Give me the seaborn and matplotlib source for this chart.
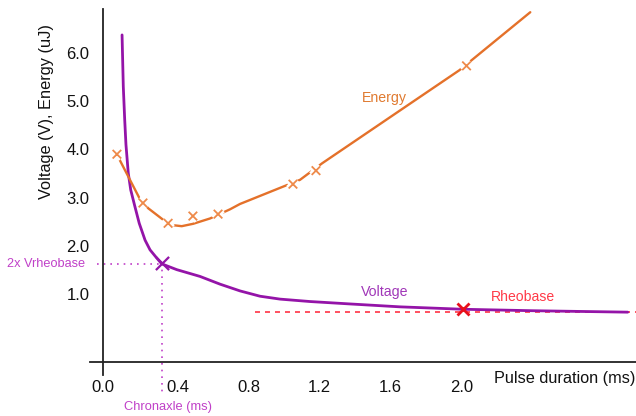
import numpy as np
import pandas as pd
import matplotlib
matplotlib.use("Agg")
import matplotlib.pyplot as plt
import matplotlib.patheffects as pe
import seaborn as sns

# ---- data ----
voltage_x = [0.085, 0.092, 0.100, 0.107, 0.120, 0.134, 0.158, 0.182, 0.215, 0.243, 0.281, 0.309,
             0.394, 0.525, 0.638, 0.751, 0.864, 0.977, 1.146, 1.372, 1.654, 2.01, 2.40, 2.94]
voltage_y = [6.37, 5.30, 4.61, 4.10, 3.51, 3.16, 2.81, 2.47, 2.12, 1.92, 1.75, 1.63,
             1.51, 1.37, 1.21, 1.07, 0.96, 0.90, 0.85, 0.80, 0.74, 0.69, 0.66, 0.63]

energy_line_x = [0.055, 0.186, 0.233, 0.318, 0.374, 0.422, 0.487, 0.582, 0.695, 0.751,
                 1.09, 1.214, 1.64, 1.99, 2.39]
energy_line_y = [3.90, 2.97, 2.78, 2.54, 2.43, 2.41, 2.46, 2.57, 2.76, 2.87,
                 3.37, 3.71, 4.77, 5.64, 6.84]

energy_pts_x = [0.056, 0.203, 0.345, 0.485, 0.627, 1.05, 1.18, 2.03]
energy_pts_y = [3.90, 2.89, 2.47, 2.62, 2.66, 3.28, 3.56, 5.73]

rheobase_v = 0.635
rheobase_start = 0.835
rheobase_pt = (2.01, 0.70)
chronaxie_pt = (0.312, 1.64)
chronaxie_floor = -1.04

xtick_vals = [-0.021, 0.4, 0.8, 1.2, 1.6, 2.0]
xtick_labels = ["0.0", "0.4", "0.8", "1.2", "1.6", "2.0"]
ytick_vals = [1.0, 2.0, 3.0, 4.0, 5.0, 6.0]
ytick_labels = ["1.0", "2.0", "3.0", "4.0", "5.0", "6.0"]

# ---- style ----
sns.set_style("white")
plt.rcParams["font.family"] = ["Liberation Sans", "DejaVu Sans"]

PURPLE = "#9414a8"
ORANGE = "#e4712a"
ORANGE_M = "#ee8a4a"
RED = "#ff3344"
MAGENTA = "#c040c8"
AXC = "#222222"

fig = plt.figure(figsize=(6.36, 4.16), dpi=100)
ax = fig.add_axes([0, 0, 1, 1])
ax.set_xlim(-0.6042, 2.987)
ax.set_ylim(-1.520, 7.093)

# dotted guides
ax.plot([-0.055, chronaxie_pt[0]], [chronaxie_pt[1] - 0.02] * 2, color=MAGENTA, lw=1.2,
        ls=(0, (1, 3)), zorder=2)
ax.plot([chronaxie_pt[0]] * 2, [chronaxie_pt[1], chronaxie_floor], color=MAGENTA, lw=1.2,
        ls=(0, (1, 3)), zorder=2)

# rheobase dashed line
ax.plot([rheobase_start, 2.987], [rheobase_v, rheobase_v], color=RED, lw=1.2,
        ls=(0, (3, 3)), zorder=2)

# voltage curve
df_v = pd.DataFrame({"x": voltage_x, "y": voltage_y})
sns.lineplot(data=df_v, x="x", y="y", sort=False, estimator=None, color=PURPLE, lw=2.0,
             ax=ax, zorder=3)
ax.lines[-1].set_solid_joinstyle("round")

# energy line + markers
df_e = pd.DataFrame({"x": energy_line_x, "y": energy_line_y})
sns.lineplot(data=df_e, x="x", y="y", sort=False, estimator=None, color=ORANGE, lw=1.7,
             ax=ax, zorder=3)
ax.lines[-1].set_solid_joinstyle("round")
df_ep = pd.DataFrame({"x": energy_pts_x, "y": energy_pts_y})
sns.scatterplot(data=df_ep, x="x", y="y", marker="x", s=38, color=ORANGE_M, linewidth=1.3,
                ax=ax, zorder=4)
ax.collections[-1].set_path_effects([pe.Stroke(linewidth=5, foreground="white"), pe.Normal()])

# key points
sns.scatterplot(x=[chronaxie_pt[0]], y=[chronaxie_pt[1]], marker="x", s=90, color=PURPLE,
                linewidth=1.6, ax=ax, zorder=5)
sns.scatterplot(x=[rheobase_pt[0]], y=[rheobase_pt[1]], marker="x", s=75, color="#e8101c",
                linewidth=2.0, ax=ax, zorder=5)

# spines
for s in ["top", "right"]:
    ax.spines[s].set_visible(False)
ax.spines["left"].set_position(("data", -0.021))
ax.spines["left"].set_bounds(-0.67, 6.907)
ax.spines["bottom"].set_position(("data", -0.408))
ax.spines["bottom"].set_bounds(-0.096, 2.987)
for s in ["left", "bottom"]:
    ax.spines[s].set_color(AXC)
    ax.spines[s].set_linewidth(1.3)

ax.set_xticks(xtick_vals)
ax.set_xticklabels(xtick_labels)
ax.set_yticks(ytick_vals)
ax.set_yticklabels(ytick_labels)
ax.tick_params(axis="x", direction="inout", length=14, width=1.2, color=AXC, pad=6,
               labelsize=12, labelcolor="#111111")
ax.tick_params(axis="y", direction="inout", length=11, width=1.2, color=AXC, pad=4.5,
               labelsize=12, labelcolor="#111111")
ax.xaxis.get_major_ticks()[0].tick1line.set_visible(False)
ax.set_xlabel("")
ax.set_ylabel("")

# texts
fig.text(47 / 636, 1 - 112 / 416, "Voltage (V), Energy (uJ)", rotation=90, ha="center",
         va="center", fontsize=11.8, color="#111111")
fig.text(494 / 636, 1 - 378 / 416, "Pulse duration (ms)", ha="left", va="center",
         fontsize=11.7, color="#111111")
fig.text(168 / 636, 1 - 407 / 416, "Chronaxle (ms)", ha="center", va="center",
         fontsize=9.3, color=MAGENTA)
fig.text(85 / 636, 1 - 264 / 416, "2x Vrheobase", ha="right", va="center",
         fontsize=9.2, color=MAGENTA)
fig.text(384 / 636, 1 - 98 / 416, "Energy", ha="center", va="center",
         fontsize=10.2, color="#e07a30")
fig.text(385 / 636, 1 - 292 / 416, "Voltage", ha="center", va="center",
         fontsize=10.2, color="#a036b8")
fig.text(523 / 636, 1 - 297 / 416, "Rheobase", ha="center", va="center",
         fontsize=10.1, color="#ff3a48")

fig.savefig("out.png", dpi=100)
